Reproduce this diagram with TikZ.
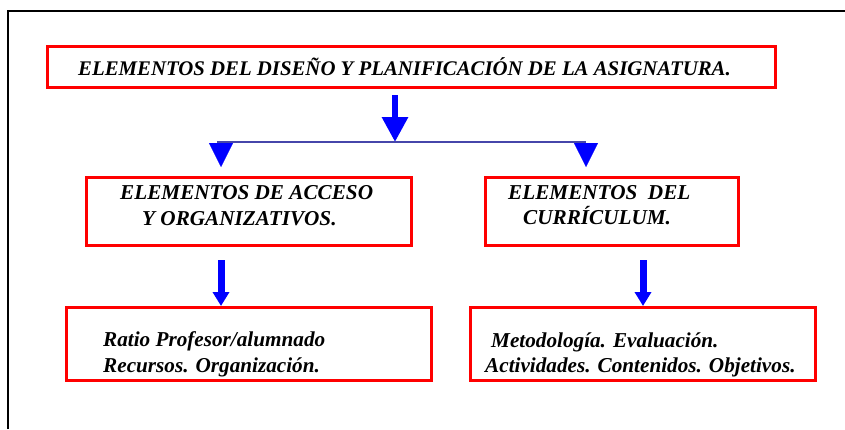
\documentclass[tikz,border=0pt]{standalone}
\usepackage{fontspec}
\setmainfont{Liberation Serif}
\usetikzlibrary{arrows.meta}

\definecolor{linearama}{RGB}{70,70,170}

\begin{document}
\begin{tikzpicture}[x=1pt,y=-1pt,
    caja/.style={draw=red, line width=3pt, inner sep=0pt},
    texto/.style={anchor=base west, inner sep=0pt, font=\bfseries\itshape\fontsize{21.2}{26}\selectfont},
    flecha/.style={draw=blue, line width=6pt, -{Triangle[width=25pt,length=25pt]}},
    flechita/.style={draw=blue, line width=7pt, -{Triangle[width=16pt,length=14pt]}},
    punta/.style={draw=blue, line width=0.1pt, -{Triangle[width=24pt,length=24pt]}}]
\useasboundingbox (0,0) rectangle (845,429);

% marco
\draw[line width=2.5pt] (8,429) -- (8,11) -- (845,11);

% cajas
\node[caja, minimum width=728pt, minimum height=41pt] (titulo) at (411.5,67) {};
\node[caja, minimum width=325pt, minimum height=68pt] (acceso) at (249,211.5) {};
\node[caja, minimum width=253pt, minimum height=68pt] (curriculum) at (612,211.5) {};
\node[caja, minimum width=365pt, minimum height=73pt] (recursos) at (249,344) {};
\node[caja, minimum width=345pt, minimum height=73pt] (metodos) at (643,344) {};

% textos
\node[texto, font=\bfseries\itshape\fontsize{20.8}{24}\selectfont] (tituloT) at (78,75)
    {ELEMENTOS DEL DISEÑO Y PLANIFICACIÓN DE LA ASIGNATURA.};
\foreach \nombre/\x/\y/\texto in {
    accesoA/120/199/{ELEMENTOS DE ACCESO},
    accesoB/142/225/{Y ORGANIZATIVOS.},
    curricA/508/199/{ELEMENTOS\ \ DEL},
    curricB/523/224/{CURRÍCULUM.},
    recursA/103/346/{Ratio Profesor/alumnado},
    recursB/103/372/{Recursos. Organización.},
    metodA/491/347/{Metodología. Evaluación.},
    metodB/485/372/{Actividades. Contenidos. Objetivos.}} {
    \node[texto] (\nombre) at (\x,\y) {\texto};
}

% flecha principal y rama
\coordinate (ini) at (395,95);
\coordinate (cruce) at (395,142);
\coordinate (ramaI) at (217,142);
\coordinate (ramaD) at (586,142);
\draw[flecha] (ini) -- (cruce);
\draw[linearama, line width=2pt] (ramaI) -- (ramaD);

% puntas de la rama
\foreach \nombre/\x in {pI/221, pD/586} {
    \coordinate (\nombre) at (\x,143);
    \draw[punta] (\nombre) -- ++(0,24);
}

% flechas inferiores
\coordinate (bajaI) at (221,260);
\coordinate (bajaD) at (643,260);
\draw[flechita] (bajaI) -- (bajaI |- recursos.north);
\draw[flechita] (bajaD) -- (bajaD |- metodos.north);

\end{tikzpicture}
\end{document}
